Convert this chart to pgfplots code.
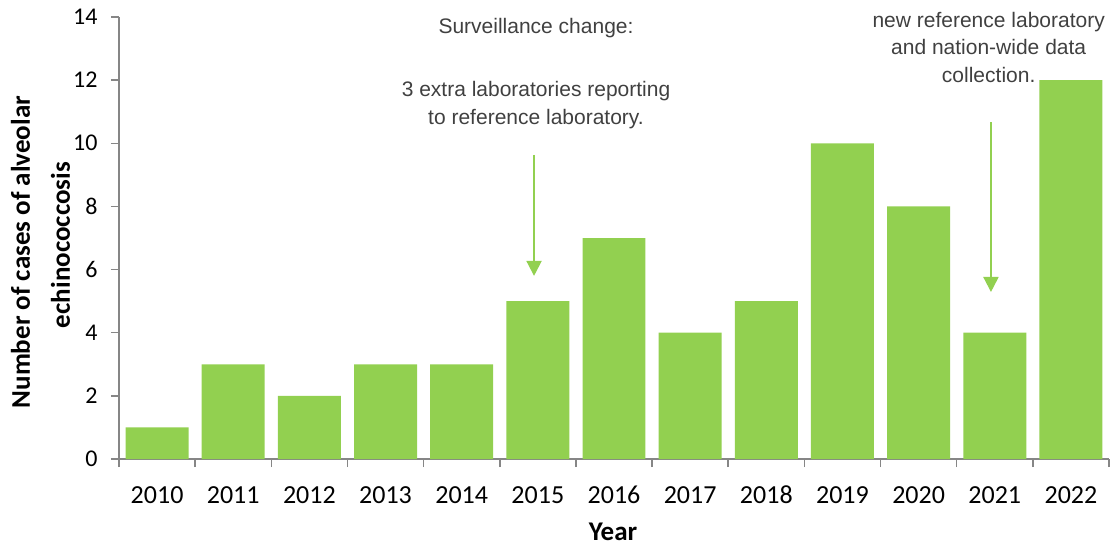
\documentclass[border=0pt]{standalone}
\usepackage{fontspec}
\setmainfont{Carlito}
\newfontfamily\arial{Liberation Sans}
\usepackage{pgfplots}
\pgfplotsset{compat=1.18}
\usetikzlibrary{arrows.meta}
\definecolor{barg}{HTML}{92D050}
\definecolor{axg}{HTML}{868686}
\definecolor{txtg}{HTML}{404040}
\begin{document}
\begin{tikzpicture}
\begin{axis}[
  scale only axis, width=990pt, height=442pt,
  xmin=-0.5, xmax=12.5, ymin=0, ymax=14,
  ytick={0,2,...,14},
  xtick={-0.5,0.5,...,12.5},
  xticklabels={2010,2011,2012,2013,2014,2015,2016,2017,2018,2019,2020,2021,2022},
  x tick label as interval,
  axis x line*=bottom, axis y line*=left,
  axis line style={axg, line width=1.5pt},
  tick style={axg, line width=1.5pt},
  major tick length=8pt,
  tick align=outside,
  /pgf/number format/assume math mode=true,
  xticklabel style={font=\fontsize{26}{30}\selectfont, text=black, anchor=base, yshift=-36pt},
  yticklabel style={font=\fontsize{24}{28}\selectfont, text=black, xshift=-10pt},
  clip=false,
]
\addplot[ybar, bar width=0.827, fill=barg, draw=none] coordinates {
  (0,1) (1,3) (2,2) (3,3) (4,3) (5,5) (6,7) (7,4) (8,5) (9,10) (10,8) (11,4) (12,12)};
\coordinate (ll) at (rel axis cs:0,0);
\coordinate (ur) at (rel axis cs:1,1);
% y label
\node[rotate=90, anchor=base, font=\bfseries\fontsize{27}{32}\selectfont] at (rel axis cs:-0.0899,0.468) {Number of cases of alveolar};
\node[rotate=90, anchor=base, font=\bfseries\fontsize{27}{32}\selectfont] at (rel axis cs:-0.0495,0.484) {echinococcosis};
% x label
\node[anchor=base, font=\bfseries\fontsize{27}{32}\selectfont] at (rel axis cs:0.499,-0.1855) {Year};
% annotations
\begin{scope}[every node/.style={anchor=base, text=txtg, font=\arial\fontsize{21}{27}\selectfont}]
\node at (axis cs:4.976,13.49) {Surveillance change:};
\node at (axis cs:4.976,11.47) {3 extra laboratories reporting};
\node at (axis cs:4.976,10.61) {to reference laboratory.};
\node at (axis cs:10.92,13.68) {new reference laboratory};
\node at (axis cs:10.92,12.80) {and nation-wide data};
\node at (axis cs:10.92,11.91) {collection.};
\end{scope}
\draw[barg, line width=2pt, -{Triangle[width=15pt,length=15pt]}] (axis cs:4.95,9.63) -- (axis cs:4.95,5.80);
\draw[barg, line width=2pt, -{Triangle[width=15pt,length=15pt]}] (axis cs:10.95,10.67) -- (axis cs:10.95,5.29);
\end{axis}
\pgfresetboundingbox
\path[use as bounding box] ([shift={(-119pt,-87pt)}]ll) rectangle ([shift={(1pt,17pt)}]ur);
\end{tikzpicture}
\end{document}
